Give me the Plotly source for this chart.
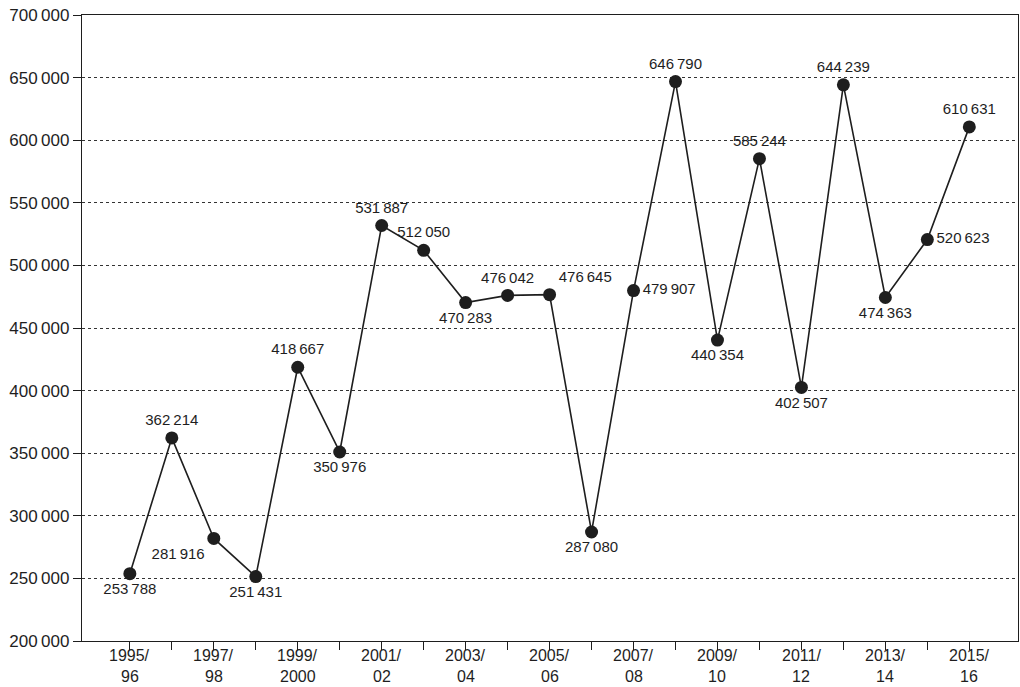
import plotly.graph_objects as go

seasons = ["1995/96", "1996/97", "1997/98", "1998/99", "1999/2000", "2000/01", "2001/02",
           "2002/03", "2003/04", "2004/05", "2005/06", "2006/07", "2007/08", "2008/09",
           "2009/10", "2010/11", "2011/12", "2012/13", "2013/14", "2014/15", "2015/16"]
values = [253788, 362214, 281916, 251431, 418667, 350976, 531887, 512050, 470283, 476042,
          476645, 287080, 479907, 646790, 440354, 585244, 402507, 644239, 474363, 520623, 610631]
label_pos = ["bottom center", "top center", "bottom left", "bottom center", "top center",
             "bottom center", "top center", "top center", "bottom center", "top center",
             "top right", "bottom center", "middle right", "top center", "bottom center",
             "top center", "bottom center", "top center", "bottom center", "middle right",
             "top center"]
y_ticks = [200000, 250000, 300000, 350000, 400000, 450000, 500000, 550000, 600000, 650000, 700000]

def fmt(v):
    s = f"{v:,}"
    return s.replace(",", "\u2009")

idx = list(range(len(seasons)))
TXT = "#1e1e1e"
FONT = "Liberation Sans, Arial, sans-serif"

fig = go.Figure()
fig.add_trace(go.Scatter(
    x=idx, y=values, mode="lines+markers+text",
    line=dict(color=TXT, width=1.6),
    marker=dict(color=TXT, size=13),
    text=[fmt(v) for v in values],
    textposition=label_pos,
    textfont=dict(family=FONT, size=15, color=TXT),
    cliponaxis=False,
    hoverinfo="skip",
))

# two-line category labels on every other season
for i, s in enumerate(seasons):
    if i % 2:
        continue
    first, second = s.split("/")
    for txt, shift in ((first + "/", -14.5), (second, -35.5)):
        fig.add_annotation(
            x=i, xref="x", y=0, yref="paper", yanchor="middle", xanchor="center",
            yshift=shift, text=txt, showarrow=False, borderpad=0,
            font=dict(family=FONT, size=16, color=TXT),
        )

fig.update_layout(
    width=1020, height=687,
    margin=dict(l=82, r=2, t=15, b=46, autoexpand=False),
    plot_bgcolor="white", paper_bgcolor="white",
    showlegend=False,
    font=dict(family=FONT, size=17, color=TXT),
)
fig.update_xaxes(
    range=[-1.14, 21.16], tickmode="array", tickvals=idx, ticktext=[""] * len(idx),
    ticks="outside", ticklen=8, tickcolor=TXT, tickwidth=1,
    showline=True, linecolor=TXT, linewidth=1.3, mirror=True,
    showgrid=False, zeroline=False, automargin=False,
)
fig.update_yaxes(
    range=[200000, 700000], tickmode="array", tickvals=y_ticks,
    ticktext=[fmt(v) for v in y_ticks],
    ticks="outside", ticklen=8, tickcolor=TXT, tickwidth=1,
    showline=True, linecolor=TXT, linewidth=1.3, mirror=True,
    showgrid=True, gridcolor="#333333", gridwidth=1, griddash="3px,3px",
    zeroline=False, tickfont=dict(size=17), automargin=False,
)

fig.write_html(
    "out.html",
    config={"displayModeBar": False},
    post_script="document.body.style.margin='0';document.body.style.overflow='hidden';",
)
